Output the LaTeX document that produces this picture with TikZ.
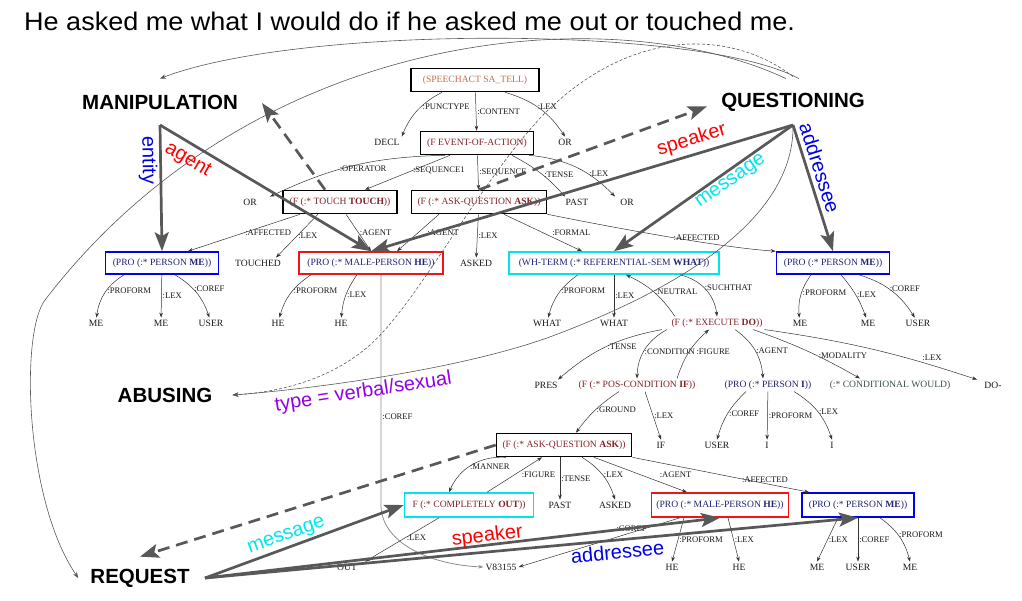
\documentclass[tikz,border=0pt]{standalone}
\usepackage{fontspec}
\setmainfont{Liberation Serif}
\setsansfont{Liberation Sans}
\newfontfamily\sentfam{Liberation Sans}[FakeStretch=1.06]
\usetikzlibrary{arrows.meta, positioning, calc}

\definecolor{sacol}{RGB}{200,112,72}
\definecolor{fcol}{RGB}{128,36,40}
\definecolor{procol}{RGB}{36,36,116}
\definecolor{modcol}{RGB}{60,84,72}
\definecolor{arcgray}{RGB}{88,88,88}
\definecolor{boxblue}{RGB}{0,0,235}
\definecolor{boxred}{RGB}{240,20,20}
\definecolor{boxcyan}{RGB}{0,228,236}
\definecolor{rolered}{RGB}{255,0,0}
\definecolor{roleblue}{RGB}{0,0,230}
\definecolor{rolecyan}{RGB}{0,230,240}
\definecolor{rolepurple}{RGB}{150,0,230}

\newcommand{\treefont}{\fontsize{9.6}{11}\selectfont}
\newcommand{\arcfont}{\fontsize{8.6}{10}\selectfont}
\newcommand{\frmfont}{\sffamily\bfseries\fontsize{20.5}{24}\selectfont}
\newcommand{\rolfont}{\sffamily\fontsize{20}{24}\selectfont}
\newcommand{\sentfont}{\sentfam\fontsize{25.5}{30}\selectfont}

\begin{document}
\begin{tikzpicture}[x=1pt, y=-1pt, >={Stealth[length=5pt,width=3.6pt]},
  gbox/.style={draw, line width=1.6pt, inner xsep=5pt, inner ysep=0pt,
               minimum height=23pt, font=\treefont},
  leaf/.style={font=\treefont, text=black!90, inner sep=2pt},
  lbl/.style={font=\arcfont, text=black!90, inner sep=1pt},
  tedge/.style={->, line width=0.5pt, draw=black!80},
  frm/.style={font=\frmfont, inner sep=2pt},
  fr/.style={draw=arcgray, line width=2.7pt,
             -{Stealth[length=19pt,width=14pt,inset=4pt]}},
  frd/.style={fr, dash pattern=on 12pt off 7pt},
  flink/.style={draw=arcgray, line width=0.6pt,
                -{Stealth[length=6pt,width=4.5pt]}},
  role/.style={font=\rolfont, sloped, inner sep=1pt}]

  \path[use as bounding box, fill=white] (0,0) rectangle (1022,600);

  \node[anchor=west, font=\sentfont, inner sep=0pt] (sent) at (24,21)
    {He asked me what I would do if he asked me out or touched me.};

  % frame labels
  \node[frm] (manip) at (160,102) {MANIPULATION};
  \node[frm] (quest) at (793,102) {QUESTIONING};
  \node[frm] (abus) at (165,395) {ABUSING};
  \node[frm] (req) at (140,578) {REQUEST};
  \coordinate (manv) at ([yshift=-23pt]manip.center);
  \coordinate (qv) at ([yshift=-23pt]quest.center);
  \coordinate (rv) at ([xshift=65pt]req.center);
  \coordinate (mantip) at (262,103);

  % parse tree
  \node[gbox, minimum width=128pt, text=sacol] (sa) at (475,80) {(SPEECHACT SA\_TELL)};
  \node[leaf] (decl) at (387,142) {DECL};
  \node[gbox, minimum width=113pt, text=fcol] (ev) at (477,143) {(F EVENT-OF-ACTION)};
  \node[leaf] (orA) at (565,142) {OR};

  \node[leaf] (orB) at (250,202) {OR};
  \node[gbox, minimum width=114pt, text=fcol] (touch) at (340,202) {(F (:* TOUCH \textbf{TOUCH}))};
  \node[gbox, minimum width=135pt, text=fcol] (askA) at (479,202) {(F (:* ASK-QUESTION \textbf{ASK}))};
  \node[leaf] (pastA) at (577,202) {PAST};
  \node[leaf] (orC) at (627,202) {OR};

  \node[gbox, minimum width=113pt, minimum height=22pt, draw=boxblue, text=procol] (meA) at (162,263) {(PRO (:* PERSON \textbf{ME}))};
  \node[leaf] (touched) at (258,263) {TOUCHED};
  \node[gbox, minimum width=144pt, minimum height=22pt, draw=boxred, text=procol] (heA) at (371,263) {(PRO (:* MALE-PERSON \textbf{HE}))};
  \node[leaf] (askedA) at (476,263) {ASKED};
  \node[gbox, minimum width=210pt, minimum height=22pt, draw=boxcyan, text=procol] (what) at (614,263) {(WH-TERM (:* REFERENTIAL-SEM \textbf{WHAT}))};
  \node[gbox, minimum width=113pt, minimum height=22pt, draw=boxblue, text=procol] (meB) at (833,263) {(PRO (:* PERSON \textbf{ME}))};

  \node[leaf] (lmeA) at (96,323) {ME};
  \node[leaf] (lmeB) at (161,323) {ME};
  \node[leaf] (luserA) at (211,323) {USER};
  \node[leaf] (lheA) at (278,323) {HE};
  \node[leaf] (lheB) at (341,323) {HE};
  \node[leaf] (lwhatA) at (547,323) {WHAT};
  \node[leaf] (lwhatB) at (614,323) {WHAT};
  \node[leaf, text=fcol] (exec) at (717,323) {(F (:* EXECUTE \textbf{DO}))};
  \node[leaf] (lmeC) at (800,323) {ME};
  \node[leaf] (lmeD) at (868,323) {ME};
  \node[leaf] (luserB) at (918,323) {USER};

  \node[leaf] (pres) at (546,385) {PRES};
  \node[leaf, text=fcol] (pcond) at (637,385) {(F (:* POS-CONDITION \textbf{IF}))};
  \node[leaf, text=procol] (persi) at (768,385) {(PRO (:* PERSON \textbf{I}))};
  \node[leaf, text=modcol] (would) at (890,385) {(:* CONDITIONAL WOULD)};
  \node[leaf] (dolex) at (993,385) {DO-};

  \node[gbox, minimum width=135pt, text=fcol] (askB) at (564,445) {(F (:* ASK-QUESTION \textbf{ASK}))};
  \node[leaf] (lif) at (661,445) {IF};
  \node[leaf] (luserC) at (717,445) {USER};
  \node[leaf] (liA) at (767,445) {I};
  \node[leaf] (liB) at (832,445) {I};

  \node[gbox, minimum width=129pt, minimum height=24pt, draw=boxcyan, text=fcol] (out) at (469,505) {F (:* COMPLETELY \textbf{OUT}))};
  \node[leaf] (pastB) at (560,505) {PAST};
  \node[leaf] (askedB) at (615,505) {ASKED};
  \node[gbox, minimum width=137pt, minimum height=24pt, draw=boxred, text=procol] (heB) at (720,505) {(PRO (:* MALE-PERSON \textbf{HE}))};
  \node[gbox, minimum width=112pt, minimum height=24pt, draw=boxblue, text=procol] (meC) at (858,505) {(PRO (:* PERSON \textbf{ME}))};

  \node[leaf] (lout) at (347,567) {OUT};
  \node[leaf] (vid) at (501,567) {V83155};
  \node[leaf] (lheC) at (672,567) {HE};
  \node[leaf] (lheD) at (739,567) {HE};
  \node[leaf] (lmeE) at (817,567) {ME};
  \node[leaf] (luserD) at (858,567) {USER};
  \node[leaf] (lmeF) at (910,567) {ME};

  \draw[tedge] ([xshift=-33pt]sa.south) to[bend right=20] node[lbl, right, pos=.4] {:PUNCTYPE} (decl.north east);
  \draw[tedge] (sa) -- node[lbl, right] {:CONTENT} (ev);
  \draw[tedge] ([xshift=30pt]sa.south) to[bend left=20] node[lbl, right, pos=.45] {:LEX} (orA.north);

  \draw[tedge] ([xshift=-32pt]ev.south) to[bend right=12] node[lbl, below=1pt, pos=.45] {:OPERATOR} ([xshift=20pt]orB.north);
  \draw[tedge] ([xshift=-27pt]ev.south) -- node[lbl, right, pos=.45] {:SEQUENCE1} ([xshift=25pt]touch.north);
  \draw[tedge] (ev) -- node[lbl, right] {:SEQUENCE} (askA);
  \draw[tedge] ([xshift=35pt]ev.south) to[bend left=10] node[lbl, right, pos=.55] {:TENSE} ([xshift=-12pt]pastA.north);
  \draw[tedge] ([xshift=52pt]ev.south) to[bend left=20] node[lbl, right, pos=.65] {:LEX} ([xshift=-12pt]orC.north);

  \draw[tedge] ([xshift=-40pt]touch.south) -- node[lbl, right] {:AFFECTED} ([xshift=26pt]meA.north);
  \draw[tedge] ([xshift=-22pt]touch.south) -- node[lbl, right] {:LEX} ([xshift=18pt]touched.north);
  \draw[tedge] ([xshift=6pt]touch.south) -- node[lbl, right] {:AGENT} (heA.north);
  \draw[tedge] ([xshift=-40pt]askA.south) -- node[lbl, right=8pt] {:AGENT} ([xshift=26pt]heA.north);
  \draw[tedge] (askA) -- node[lbl, right] {:LEX} (askedA);
  \draw[tedge] ([xshift=25pt]askA.south) -- node[lbl, right=8pt] {:FORMAL} ([xshift=-32pt]what.north);
  \draw[tedge] (askA.south east) .. controls +(50,10) and +(-60,-4) .. node[lbl, above, pos=.65] {:AFFECTED} (meB.north west);

  \draw[tedge] ([xshift=-38pt]meA.south) to[bend right=25] node[lbl, right, pos=.45] {:PROFORM} (lmeA);
  \draw[tedge] (meA) -- node[lbl, right] {:LEX} (lmeB);
  \draw[tedge] ([xshift=13pt]meA.south) to[bend left=20] node[lbl, right, pos=.4] {:COREF} (luserA);
  \draw[tedge] ([xshift=-60pt]heA.south) to[bend right=20] node[lbl, right, pos=.45] {:PROFORM} (lheA);
  \draw[tedge] ([xshift=-14pt]heA.south) to[bend right=15] node[lbl, right] {:LEX} (lheB);
  \draw[tedge, draw=black!45, line width=0.8pt] ([xshift=10pt]heA.south) -- node[lbl, right, pos=.61] {:COREF} ++(0,232) .. controls +(2,38) and +(-50,-2) .. (vid.west);
  \draw[tedge] ([xshift=-36pt]what.south) to[bend right=20] node[lbl, right, pos=.45] {:PROFORM} (lwhatA);
  \draw[tedge] (what) -- node[lbl, right] {:LEX} (lwhatB);
  \draw[tedge] ([xshift=-42pt]exec.north) to[bend right=15] node[lbl, right] {:NEUTRAL} ([xshift=12pt]what.south);
  \draw[tedge] ([xshift=66pt]what.south) to[bend left=35] node[lbl, right, pos=.45] {:SUCHTHAT} (exec.north);
  \draw[tedge] ([xshift=-22pt]meB.south) to[bend right=20] node[lbl, right, pos=.45] {:PROFORM} (lmeC);
  \draw[tedge] ([xshift=8pt]meB.south) to[bend left=10] node[lbl, right] {:LEX} (lmeD);
  \draw[tedge] ([xshift=26pt]meB.south) to[bend left=20] node[lbl, right, pos=.45] {:COREF} (luserB);

  \draw[tedge] ([xshift=-55pt]exec.south) to[bend right=15] node[lbl, right] {:TENSE} ([xshift=12pt]pres.north);
  \draw[tedge] ([xshift=-50pt]exec.south) to[bend right=30] node[lbl, right, pos=.55] {:CONDITION} (pcond.north);
  \draw[tedge] ([xshift=40pt]pcond.north) to[bend left=15] node[lbl, right=6pt] {:FIGURE} ([xshift=-8pt]exec.south);
  \draw[tedge] ([xshift=18pt]exec.south) to[bend left=25] node[lbl, right] {:AGENT} ([xshift=-5pt]persi.north);
  \draw[tedge] ([xshift=36pt]exec.south) to[bend left=5] node[lbl, right, pos=.6] {:MODALITY} ([xshift=-30pt]would.north);
  \draw[tedge] (exec.south east) to[bend left=5] node[lbl, above=3pt, pos=.8] {:LEX} ([xshift=-16pt]dolex.north);

  \draw[tedge] ([xshift=-18pt]pcond.south) to[bend right=10] node[lbl, right] {:GROUND} ([xshift=12pt]askB.north);
  \draw[tedge] ([xshift=8pt]pcond.south) -- node[lbl, right] {:LEX} (lif.north);
  \draw[tedge] ([xshift=-22pt]persi.south) to[bend right=15] node[lbl, right] {:COREF} (luserC.north);
  \draw[tedge] (persi) -- node[lbl, right] {:PROFORM} (liA);
  \draw[tedge] ([xshift=26pt]persi.south) to[bend left=20] node[lbl, right] {:LEX} (liB.north);

  \draw[tedge] ([xshift=-58pt]askB.south) to[bend right=35] node[lbl, right, pos=.55] {:MANNER} ([xshift=-20pt]out.north);
  \draw[tedge] ([xshift=18pt]out.north) -- node[lbl, right=6pt] {:FIGURE} ([xshift=-22pt]askB.south);
  \draw[tedge] ([xshift=-4pt]askB.south) -- node[lbl, right] {:TENSE} (pastB.north);
  \draw[tedge] ([xshift=18pt]askB.south) to[bend left=20] node[lbl, right] {:LEX} (askedB.north);
  \draw[tedge] ([xshift=30pt]askB.south) -- node[lbl, right=18pt] {:AGENT} ([xshift=-33pt]heB.north);
  \draw[tedge] (askB.south east) -- node[lbl, above, pos=.75] {:AFFECTED} ([xshift=8pt]meC.north west);

  \draw[tedge] ([xshift=-30pt]out.south) -- node[lbl, right, pos=.45] {:LEX} ([xshift=18pt]lout.north);
  \draw[tedge] ([xshift=-40pt]heB.south) -- node[lbl, above, pos=.3] {:COREF} (vid.east);
  \draw[tedge] ([xshift=-36pt]heB.south) -- node[lbl, right] {:PROFORM} (lheC.north);
  \draw[tedge] ([xshift=8pt]heB.south) -- node[lbl, right] {:LEX} (lheD.north);
  \draw[tedge] ([xshift=-20pt]meC.south) -- node[lbl, right] {:LEX} (lmeE.north);
  \draw[tedge] (meC) -- node[lbl, right] {:COREF} (luserD);
  \draw[tedge] ([xshift=22pt]meC.south) to[bend left=20] node[lbl, right, pos=.45] {:PROFORM} (lmeF.north);

  % frame links
  \draw[flink] ([xshift=6pt, yshift=12pt]quest.north) .. controls (700,25) and (300,25) .. ([yshift=14pt]manip.north);
  \draw[flink] ([xshift=-7pt, yshift=12pt]quest.north) .. controls (620,0) and (260,20) .. (45,300)
    .. controls (20,333) and (25,500) .. ([xshift=-10pt]req.west);
  \draw[flink, dash pattern=on 3pt off 2pt] ([yshift=14pt]quest.north) .. controls (740,35) and (640,20) .. (545,113)
    .. controls (480,180) and (420,300) .. (370,345) .. controls (330,380) and (280,392) .. ([xshift=18pt]abus.east);
  \draw[flink] (qv) .. controls (795,230) and (650,300) .. (547,338)
    .. controls (450,372) and (300,390) .. node[role, pos=.55, below=2pt, text=rolepurple] {type = verbal/sexual} ([xshift=18pt]abus.east);

  % frame roles
  \draw[fr] (manv) -- node[role, below=1pt, pos=.28, text=roleblue] {entity} (meA.north);
  \draw[fr] (manv) -- node[role, below=5pt, pos=.17, text=rolered] {agent} (heA.north);
  \draw[frd] ([xshift=-15pt]touch.north) -- (mantip);
  \draw[frd, shorten >=13pt] (askA.north) -- (quest.west);
  \draw[fr] (qv) -- node[role, above=3pt, pos=.23, text=rolered] {speaker} (heA.north);
  \draw[fr] (qv) -- node[role, below=1pt, pos=.38, text=rolecyan] {message} (what.north);
  \draw[fr] (qv) -- node[role, above=3pt, pos=.37, text=roleblue] {addressee} (meB.north);
  \draw[fr] (rv) -- node[role, above=1pt, pos=.43, text=rolecyan] {message} (out.west);
  \draw[fr] (rv) -- node[role, above=-3pt, pos=.55, text=rolered] {speaker} (heB.south);
  \draw[fr] (rv) -- node[role, below=2pt, pos=.63, text=roleblue] {addressee} (meC.south);
  \draw[frd] (askB.west) -- ([yshift=10pt]req.north);
\end{tikzpicture}
\end{document}
